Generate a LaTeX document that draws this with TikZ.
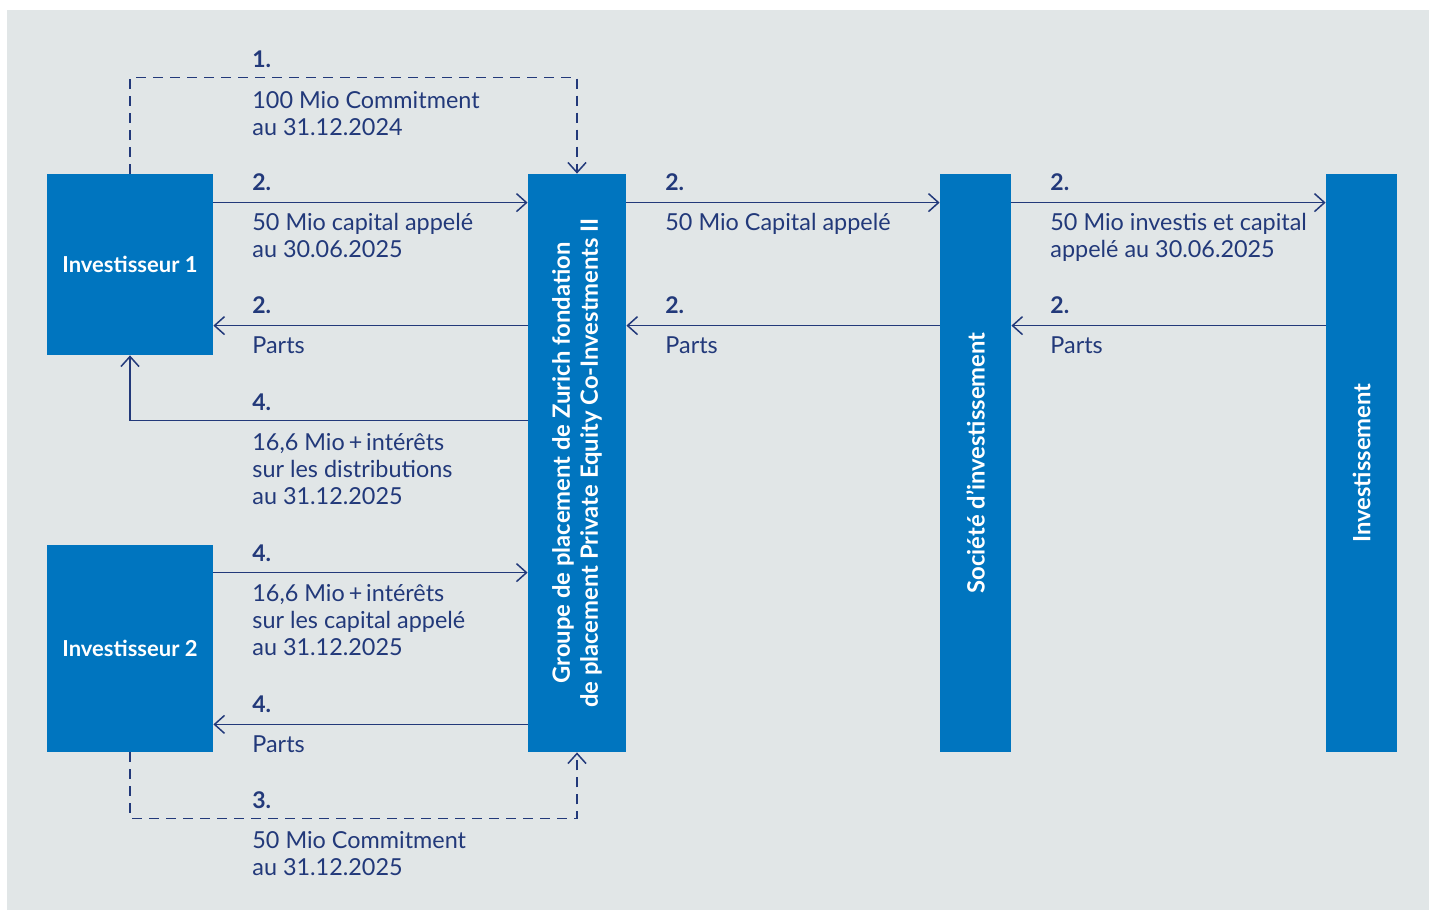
\documentclass[tikz,border=0pt]{standalone}
\usepackage{fontspec}
\setmainfont{Lato}
\usetikzlibrary{arrows.meta}

\definecolor{bgrey}{HTML}{E1E6E7}
\definecolor{zblue}{HTML}{0075BF}
\definecolor{navy}{HTML}{22397A}

\tikzset{
  box/.style={fill=zblue, text=white, inner sep=0pt, font=\bfseries\fontsize{11}{14}\selectfont},
  vbox/.style={box, rotate=90, align=center, font=\bfseries\fontsize{11.9}{14}\selectfont},
  flow/.style={draw=navy, line width=0.75pt, -{Straight Barb[length=5pt,width=9pt,line width=0.75pt]}},
  commit/.style={flow, dash pattern=on 5pt off 3.5pt},
  stepno/.style={anchor=base west, inner sep=0pt, text=navy, font=\bfseries\fontsize{11.5}{13.5}\selectfont},
  note/.style={anchor=base west, inner sep=0pt, text=navy, align=left, font=\fontsize{11.7}{13.5}\selectfont},
}

\begin{document}
\begin{tikzpicture}[x=0.5pt,y=-0.5pt]
\useasboundingbox (0,0) rectangle (1429,910);
\fill[bgrey] (7,10) rectangle (1429,910);

\node[box, minimum width=83pt, minimum height=90.5pt] (inv1) at (130,264.5) {Investisseur 1};
\node[box, minimum width=83pt, minimum height=103.5pt] (inv2) at (130,648.5) {Investisseur 2};
\node[fill=zblue, minimum width=49pt, minimum height=289pt, inner sep=0pt] (grp) at (577,463) {};
\node[fill=zblue, minimum width=35.5pt, minimum height=289pt, inner sep=0pt] (soc) at (975.5,463) {};
\node[fill=zblue, minimum width=35.5pt, minimum height=289pt, inner sep=0pt] (inv) at (1361.5,463) {};
\node[vbox] (grptxt) at (grp.center) {Groupe de placement de Zurich fondation\\de placement Private Equity Co-Investments II};
\node[vbox] (soctxt) at (soc.center) {Société d’investissement};
\node[vbox] (invtxt) at (inv.center) {Investissement};

% left side
\draw[commit] (inv1.north) -- ([yshift=48pt]inv1.north) -| (grp.north);
\draw[flow] ([yshift=-14.5pt]inv1.north east) -- ([yshift=-14.5pt]grp.north west);
\draw[flow] ([yshift=-76pt]grp.north west) -- ([yshift=-76pt]inv1.north east);
\draw[flow] ([yshift=-123.5pt]grp.north west) -| (inv1.south);
\draw[flow] ([yshift=-14pt]inv2.north east) -- ([yshift=-14pt]inv2.north east -| grp.west);
\draw[flow] ([yshift=14pt]inv2.south east -| grp.west) -- ([yshift=14pt]inv2.south east);
\draw[commit] (inv2.south) -- ([yshift=-33pt]inv2.south) -| (grp.south);

% right side
\draw[flow] ([yshift=-14.5pt]grp.north east) -- ([yshift=-14.5pt]soc.north west);
\draw[flow] ([yshift=-76pt]soc.north west) -- ([yshift=-76pt]grp.north east);
\draw[flow] ([yshift=-14.5pt]soc.north east) -- ([yshift=-14.5pt]inv.north west);
\draw[flow] ([yshift=-76pt]inv.north west) -- ([yshift=-76pt]soc.north east);

% labels (base of last line)
\node[stepno] (s1) at (252,67) {1.};
\node[note] (n1) at (252,135) {100 Mio Commitment\\au 31.12.2024};
\node[stepno] (s2a) at (252,190) {2.};
\node[note] (n2a) at (252,257) {50 Mio capital appelé\\au 30.06.2025};
\node[stepno] (s2b) at (252,313) {2.};
\node[note] (n2b) at (252,353) {Parts};
\node[stepno] (s4a) at (252,410) {4.};
\node[note] (n4a) at (252,504) {16,6 Mio\,+\,intérêts\\sur les distributions\\au 31.12.2025};
\node[stepno] (s4b) at (252,561) {4.};
\node[note] (n4b) at (252,655) {16,6 Mio\,+\,intérêts\\sur les capital appelé\\au 31.12.2025};
\node[stepno] (s4c) at (252,712) {4.};
\node[note] (n4c) at (252,752) {Parts};
\node[stepno] (s3) at (252,808) {3.};
\node[note] (n3) at (252,875) {50 Mio Commitment\\au 31.12.2025};

\node[stepno] (s2c) at (665,190) {2.};
\node[note] (n2c) at (665,230) {50 Mio Capital appelé};
\node[stepno] (s2d) at (665,313) {2.};
\node[note] (n2d) at (665,353) {Parts};
\node[stepno] (s2e) at (1050,190) {2.};
\node[note] (n2e) at (1050,257) {50 Mio investis et capital\\appelé au 30.06.2025};
\node[stepno] (s2f) at (1050,313) {2.};
\node[note] (n2f) at (1050,353) {Parts};
\end{tikzpicture}
\end{document}
